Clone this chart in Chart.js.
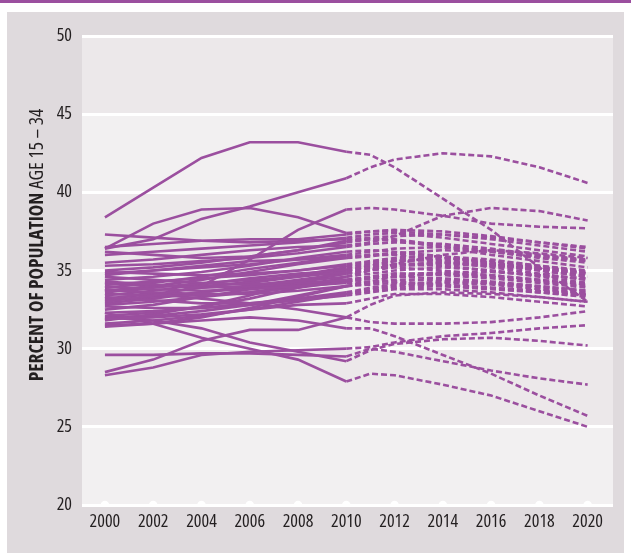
<!DOCTYPE html>
<html>
<head>
<meta charset="utf-8">
<script src="https://cdn.jsdelivr.net/npm/chart.js@4.4.1/dist/chart.umd.min.js"></script>
<style>
html,body{margin:0;padding:0;background:#fff;}
#wrap{width:631px;height:553px;position:relative;}
</style>
</head>
<body>
<div id="wrap"><canvas id="c" width="631" height="553"></canvas></div>
<script>
// ---- DATA ----
const years = [2000, 2002, 2004, 2006, 2008, 2010, 2011, 2012, 2014, 2016, 2018, 2020];
const xTickYears = [2000, 2002, 2004, 2006, 2008, 2010, 2012, 2014, 2016, 2018, 2020];
const yTicks = [20, 25, 30, 35, 40, 45, 50];
const projectionStart = 2010;

const s01 = [38.4, 40.3, 42.2, 43.2, 43.2, 42.6, 42.4, 41.6, 39.6, 37.6, 35.2, 33.0];
const s02 = [36.4, 37.0, 38.3, 39.1, 40.0, 40.9, 41.6, 42.1, 42.5, 42.3, 41.6, 40.6];
const s03 = [36.4, 38.0, 38.9, 39.0, 38.4, 37.4, 37.5, 37.6, 37.5, 37.2, 36.8, 36.4];
const s04 = [33.0, 33.4, 34.0, 35.7, 37.6, 38.9, 39.0, 38.9, 38.5, 38.0, 37.8, 37.7];
const s05 = [35.5, 35.7, 36.0, 36.3, 36.5, 36.6, 36.8, 37.2, 38.5, 39.0, 38.8, 38.2];
const s06 = [37.3, 37.1, 36.9, 36.8, 36.9, 37.0, 37.1, 37.2, 37.3, 37.1, 36.8, 36.5];
const s07 = [36.5, 36.7, 36.9, 37.0, 37.0, 37.3, 37.5, 37.5, 37.3, 37.0, 36.6, 36.2];
const s08 = [36.2, 36.0, 35.8, 35.9, 36.3, 36.8, 37.0, 37.0, 36.6, 36.2, 35.8, 35.5];
const s09 = [35.0, 35.2, 35.5, 35.9, 36.3, 36.9, 37.0, 36.9, 36.5, 36.0, 35.6, 35.2];
const s10 = [34.9, 34.8, 34.7, 34.8, 35.0, 35.4, 35.6, 35.8, 35.9, 35.7, 35.3, 34.9];
const s11 = [34.7, 35.0, 35.3, 35.6, 35.7, 35.8, 35.9, 36.1, 36.3, 36.2, 35.9, 35.6];
const s12 = [34.6, 34.4, 34.2, 34.1, 34.3, 34.6, 34.8, 35.0, 35.2, 35.0, 34.7, 34.4];
const s13 = [34.4, 34.6, 34.9, 35.3, 35.8, 36.2, 36.3, 36.2, 35.9, 35.4, 35.0, 34.6];
const s14 = [34.3, 34.1, 33.9, 34.0, 34.2, 34.4, 34.6, 34.8, 34.8, 34.6, 34.3, 34.0];
const s15 = [34.1, 34.3, 34.5, 34.7, 35.0, 35.3, 35.5, 35.7, 35.6, 35.4, 35.1, 34.8];
const s16 = [34.0, 33.8, 33.7, 33.8, 34.0, 34.2, 34.3, 34.3, 34.1, 33.9, 33.7, 33.5];
const s17 = [33.9, 34.2, 34.6, 35.1, 35.5, 35.9, 36.0, 36.0, 35.6, 35.2, 34.8, 34.4];
const s18 = [33.8, 33.6, 33.5, 33.5, 33.7, 34.0, 34.1, 34.2, 34.0, 33.8, 33.6, 33.4];
const s19 = [33.6, 33.9, 34.2, 34.4, 34.6, 34.9, 35.1, 35.3, 35.4, 35.3, 35.1, 34.8];
const s20 = [33.5, 33.4, 33.4, 33.6, 33.9, 34.3, 34.5, 34.6, 34.5, 34.3, 34.0, 33.7];
const s21 = [33.4, 33.7, 34.1, 34.5, 34.8, 35.0, 35.2, 35.4, 35.5, 35.4, 35.2, 34.9];
const s22 = [33.3, 33.1, 32.9, 32.9, 33.1, 33.4, 33.6, 33.8, 33.8, 33.6, 33.3, 33.0];
const s23 = [33.1, 33.3, 33.6, 33.9, 34.1, 34.3, 34.5, 34.7, 34.9, 34.9, 34.7, 34.5];
const s24 = [32.9, 33.2, 33.6, 34.0, 34.4, 34.8, 35.0, 35.2, 35.0, 34.7, 34.4, 34.1];
const s25 = [32.7, 32.6, 32.6, 32.8, 33.1, 33.5, 33.7, 33.9, 34.0, 33.9, 33.6, 33.3];
const s26 = [32.5, 32.8, 33.3, 33.8, 34.3, 34.8, 35.1, 35.3, 35.5, 35.3, 35.0, 34.6];
const s27 = [32.3, 32.4, 32.6, 32.9, 33.2, 33.6, 33.9, 34.1, 34.3, 34.2, 34.0, 33.7];
const s28 = [32.1, 32.3, 32.7, 33.2, 33.9, 34.6, 35.0, 35.4, 36.0, 36.3, 36.1, 35.8];
const s29 = [31.9, 32.0, 32.2, 32.5, 32.8, 32.9, 33.2, 33.5, 33.5, 33.3, 33.0, 32.7];
const s30 = [31.6, 31.8, 32.1, 32.5, 33.0, 33.5, 33.8, 34.0, 34.2, 34.1, 33.8, 33.5];
const s31 = [31.4, 31.6, 32.0, 32.6, 33.3, 34.0, 34.3, 34.6, 34.8, 34.7, 34.4, 34.1];
const s32 = [33.8, 33.5, 33.2, 32.9, 32.5, 32.0, 32.8, 33.4, 33.6, 33.5, 33.3, 33.0];
const s33 = [28.5, 29.3, 30.5, 31.2, 31.2, 32.0, 31.7, 31.6, 31.6, 31.7, 32.0, 32.4];
const s34 = [28.3, 28.8, 29.6, 29.8, 29.9, 30.0, 30.1, 30.4, 30.8, 31.0, 31.3, 31.5];
const s35 = [29.6, 29.6, 29.7, 29.7, 29.6, 29.5, 30.0, 29.8, 29.2, 28.6, 28.1, 27.7];
const s36 = [32.0, 31.8, 31.3, 30.4, 29.8, 29.2, 29.9, 30.3, 30.6, 30.7, 30.5, 30.2];
const s37 = [31.5, 31.6, 31.8, 32.0, 31.8, 31.3, 31.3, 30.8, 29.6, 28.4, 27.0, 25.7];
const s38 = [32.3, 31.6, 30.7, 30.0, 29.3, 27.9, 28.4, 28.3, 27.7, 27.0, 26.0, 25.0];
const s39 = [35.3, 35.4, 35.6, 35.8, 36.1, 36.5, 36.7, 36.8, 36.7, 36.4, 36.0, 35.7];
const s40 = [34.8, 35.0, 35.2, 35.4, 35.7, 36.0, 36.2, 36.4, 36.5, 36.3, 36.0, 35.6];
const s41 = [34.2, 34.0, 34.0, 34.2, 34.6, 35.1, 35.3, 35.4, 35.3, 35.0, 34.6, 34.2];
const s42 = [33.7, 34.0, 34.4, 34.9, 35.4, 35.8, 36.0, 36.1, 35.9, 35.5, 35.1, 34.7];
const s43 = [33.2, 33.5, 33.9, 34.3, 34.7, 35.2, 35.4, 35.6, 35.7, 35.5, 35.2, 34.8];
const s44 = [32.8, 33.0, 33.3, 33.6, 34.0, 34.4, 34.6, 34.8, 34.7, 34.5, 34.2, 33.9];
const s45 = [32.0, 32.1, 32.4, 32.8, 33.4, 34.0, 34.2, 34.4, 34.4, 34.2, 33.9, 33.6];
const s46 = [31.8, 32.2, 32.7, 33.4, 34.2, 35.0, 35.3, 35.6, 35.8, 35.6, 35.3, 35.0];
const s47 = [36.0, 36.2, 36.4, 36.6, 36.8, 37.1, 37.3, 37.4, 37.1, 36.7, 36.3, 35.9];

const seriesList = [s01, s02, s03, s04, s05, s06, s07, s08, s09, s10, s11, s12, s13,
  s14, s15, s16, s17, s18, s19, s20, s21, s22, s23, s24, s25, s26, s27, s28, s29, s30,
  s31, s32, s33, s34, s35, s36, s37, s38, s39, s40, s41, s42, s43, s44, s45, s46, s47];

const axisTitleBold = 'PERCENT OF POPULATION';
const axisTitleRest = ' AGE 15 – 34';

// ---- STYLE ----
const PURPLE = '#9b4f9f';
const FONT = "'Open Sans', 'Liberation Sans', sans-serif";
const TEXT = '#231f20';

const datasets = seriesList.map((vals, i) => ({
  label: 'Series ' + (i + 1),
  data: years.map((yr, j) => ({ x: yr, y: vals[j] })),
  borderColor: PURPLE,
  backgroundColor: PURPLE,
  borderWidth: 2.6,
  pointRadius: 0,
  tension: 0,
  fill: false,
  segment: {
    borderDash: ctx => ctx.p0.parsed.x >= projectionStart ? [6, 3] : undefined
  }
}));

datasets.push({
  label: 'ticks',
  data: xTickYears.map(yr => ({ x: yr, y: 20 })),
  showLine: false,
  pointRadius: 4.2,
  pointBackgroundColor: '#ffffff',
  pointBorderWidth: 0,
  borderColor: '#ffffff'
});

const bgPlugin = {
  id: 'bg',
  beforeDraw(chart) {
    const ctx = chart.ctx;
    const { left, right } = chart.chartArea;
    const ys = chart.scales.y;
    ctx.save();
    ctx.fillStyle = '#ffffff';
    ctx.fillRect(0, 0, chart.width, chart.height);
    ctx.fillStyle = PURPLE;
    ctx.fillRect(0, 0, chart.width, 3);
    ctx.fillStyle = '#dfdadd';
    ctx.fillRect(7, 12, 617, chart.height - 12);
    for (let i = 0; i < yTicks.length - 1; i++) {
      const y0 = ys.getPixelForValue(yTicks[i]);
      const y1 = ys.getPixelForValue(yTicks[i + 1]);
      ctx.fillStyle = (i % 2 === 0) ? '#f2f0f1' : '#ece8ea';
      ctx.fillRect(left, y1, right - left, y0 - y1);
    }
    ctx.restore();
  },
  afterDraw(chart) {
    const ctx = chart.ctx;
    ctx.save();
    const cx = 37, cy = 245;
    ctx.translate(cx, cy);
    ctx.rotate(-Math.PI / 2);
    ctx.fillStyle = TEXT;
    ctx.textBaseline = 'middle';
    const boldFont = "bold condensed 19.4px " + FONT;
    const normFont = "400 condensed 19.4px " + FONT;
    ctx.font = boldFont;
    const w1 = ctx.measureText(axisTitleBold).width;
    ctx.font = normFont;
    const w2 = ctx.measureText(axisTitleRest).width;
    const start = -(w1 + w2) / 2;
    ctx.textAlign = 'left';
    ctx.font = boldFont;
    ctx.fillText(axisTitleBold, start, 0);
    ctx.font = normFont;
    ctx.fillText(axisTitleRest, start + w1, 0);
    ctx.restore();
  }
};

new Chart(document.getElementById('c'), {
  type: 'line',
  data: { datasets },
  options: {
    responsive: false,
    animation: false,
    layout: { padding: { left: 0, top: 36, right: 18, bottom: 0 } },
    plugins: { legend: { display: false }, tooltip: { enabled: false } },
    scales: {
      x: {
        type: 'linear',
        min: 1999.05,
        max: 2021.05,
        afterBuildTicks: s => { s.ticks = xTickYears.map(v => ({ value: v })); },
        afterFit: s => { s.height = 48; },
        grid: { display: false, drawTicks: false },
        border: { display: false },
        ticks: {
          padding: 6,
          color: TEXT,
          font: { family: FONT, size: 18, weight: '400 condensed' },
          maxRotation: 0,
          autoSkip: false,
          callback: v => String(v)
        }
      },
      y: {
        min: 20,
        max: 50,
        afterBuildTicks: s => { s.ticks = yTicks.map(v => ({ value: v })); },
        afterFit: s => { s.width = 82; },
        grid: { color: '#ffffff', lineWidth: 3, drawTicks: false },
        border: { display: false },
        ticks: {
          padding: 10,
          color: TEXT,
          font: { family: FONT, size: 18, weight: '400 condensed' },
          callback: v => String(v)
        }
      }
    }
  },
  plugins: [bgPlugin]
});
</script>
</body>
</html>
